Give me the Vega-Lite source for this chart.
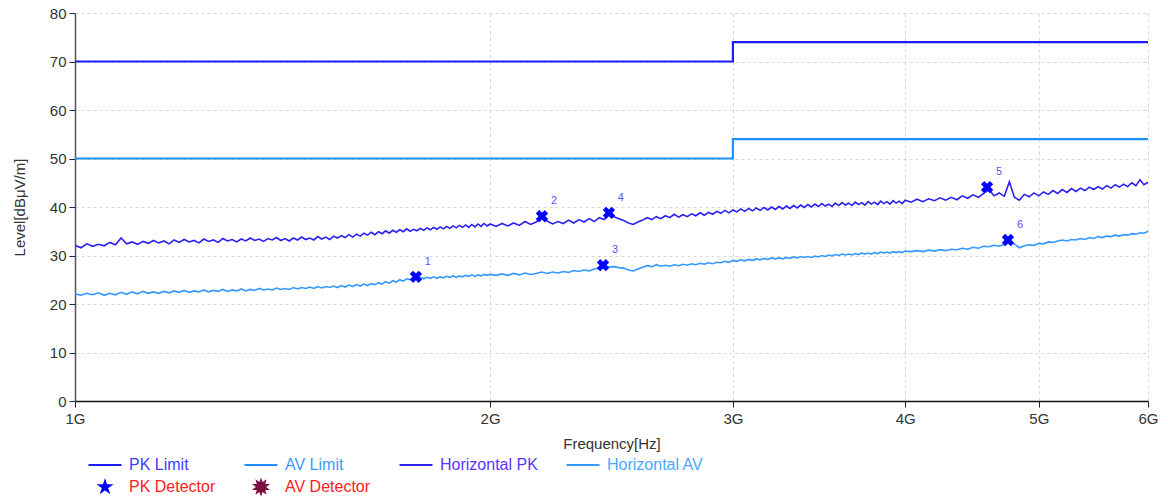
{
  "$schema": "https://vega.github.io/schema/vega-lite/v6.json",
  "autosize": "none",
  "width": 1073,
  "height": 388,
  "padding": {"left": 75, "top": 13, "right": 20, "bottom": 96},
  "background": "white",
  "config": {
    "view": {"stroke": null},
    "font": "Liberation Sans",
    "axis": {
      "labelFont": "Liberation Sans",
      "titleFont": "Liberation Sans",
      "labelFontSize": 15,
      "titleFontSize": 15,
      "labelColor": "#333333",
      "titleColor": "#333333",
      "titleFontWeight": "normal",
      "gridColor": "#d9d9d9",
      "gridDash": [3, 3],
      "gridWidth": 1,
      "tickColor": "#222222",
      "tickSize": 6
    },
    "legend": {
      "labelFont": "Liberation Sans",
      "labelFontSize": 16
    }
  },
  "datasets": {
    "limits": [
      {"f": 1, "l": 70, "s": "PK Limit"},
      {"f": 3, "l": 74, "s": "PK Limit"},
      {"f": 6, "l": 74, "s": "PK Limit"},
      {"f": 1, "l": 50, "s": "AV Limit"},
      {"f": 3, "l": 54, "s": "AV Limit"},
      {"f": 6, "l": 54, "s": "AV Limit"}
    ],
    "markers": [
      {"n": "1", "f": 1.767, "v": 25.6},
      {"n": "2", "f": 2.181, "v": 38.1},
      {"n": "3", "f": 2.415, "v": 28.0},
      {"n": "4", "f": 2.439, "v": 38.8},
      {"n": "5", "f": 4.586, "v": 44.1},
      {"n": "6", "f": 4.749, "v": 33.2}
    ],
    "trace": [
      {"f":1.00,"p":32.1,"a":22.1},{"f":1.01,"p":31.6,"a":21.8},{"f":1.02,"p":32.4,"a":22.2},{"f":1.03,"p":31.9,"a":21.9},
      {"f":1.04,"p":32.3,"a":22.3},{"f":1.05,"p":32.0,"a":21.8},{"f":1.06,"p":32.7,"a":22.2},{"f":1.07,"p":32.2,"a":21.9},
      {"f":1.08,"p":33.6,"a":22.4},{"f":1.09,"p":32.4,"a":22.0},{"f":1.10,"p":32.8,"a":22.5},{"f":1.11,"p":32.3,"a":22.1},
      {"f":1.12,"p":32.9,"a":22.6},{"f":1.13,"p":32.5,"a":22.2},{"f":1.14,"p":33.1,"a":22.5},{"f":1.15,"p":32.6,"a":22.2},
      {"f":1.16,"p":33.0,"a":22.6},{"f":1.17,"p":32.4,"a":22.3},{"f":1.18,"p":33.2,"a":22.7},{"f":1.19,"p":32.7,"a":22.4},
      {"f":1.20,"p":33.3,"a":22.8},{"f":1.21,"p":32.8,"a":22.4},{"f":1.22,"p":33.1,"a":22.7},{"f":1.23,"p":32.6,"a":22.5},
      {"f":1.24,"p":33.4,"a":22.9},{"f":1.25,"p":32.9,"a":22.5},{"f":1.26,"p":33.2,"a":22.8},{"f":1.27,"p":32.7,"a":22.6},
      {"f":1.28,"p":33.5,"a":23.0},{"f":1.29,"p":33.0,"a":22.6},{"f":1.30,"p":33.3,"a":22.9},{"f":1.31,"p":32.8,"a":22.7},
      {"f":1.32,"p":33.4,"a":23.1},{"f":1.33,"p":33.0,"a":22.7},{"f":1.34,"p":33.6,"a":23.0},{"f":1.35,"p":33.1,"a":22.8},
      {"f":1.36,"p":33.4,"a":23.2},{"f":1.37,"p":32.9,"a":22.9},{"f":1.38,"p":33.5,"a":23.1},{"f":1.39,"p":33.2,"a":22.9},
      {"f":1.40,"p":33.7,"a":23.3},{"f":1.41,"p":33.1,"a":23.0},{"f":1.42,"p":33.5,"a":23.2},{"f":1.43,"p":33.0,"a":23.0},
      {"f":1.44,"p":33.6,"a":23.4},{"f":1.45,"p":33.2,"a":23.1},{"f":1.46,"p":33.8,"a":23.4},{"f":1.47,"p":33.3,"a":23.2},
      {"f":1.48,"p":33.6,"a":23.5},{"f":1.49,"p":33.2,"a":23.2},{"f":1.50,"p":33.9,"a":23.6},{"f":1.51,"p":33.4,"a":23.3},
      {"f":1.52,"p":33.8,"a":23.6},{"f":1.53,"p":33.3,"a":23.4},{"f":1.54,"p":34.0,"a":23.7},{"f":1.55,"p":33.6,"a":23.4},
      {"f":1.56,"p":34.1,"a":23.8},{"f":1.57,"p":33.7,"a":23.5},{"f":1.58,"p":34.3,"a":23.9},{"f":1.59,"p":33.8,"a":23.6},
      {"f":1.60,"p":34.4,"a":24.0},{"f":1.61,"p":34.0,"a":23.7},{"f":1.62,"p":34.6,"a":24.1},{"f":1.63,"p":34.2,"a":23.8},
      {"f":1.64,"p":34.8,"a":24.2},{"f":1.65,"p":34.3,"a":24.0},{"f":1.66,"p":34.9,"a":24.4},{"f":1.67,"p":34.5,"a":24.1},
      {"f":1.68,"p":35.1,"a":24.6},{"f":1.69,"p":34.6,"a":24.3},{"f":1.70,"p":35.2,"a":24.8},{"f":1.71,"p":34.8,"a":24.5},
      {"f":1.72,"p":35.3,"a":25.0},{"f":1.73,"p":34.9,"a":24.7},{"f":1.74,"p":35.5,"a":25.2},{"f":1.75,"p":35.0,"a":25.0},
      {"f":1.76,"p":35.4,"a":25.4},{"f":1.77,"p":35.1,"a":25.2},{"f":1.78,"p":35.6,"a":25.5},{"f":1.79,"p":35.2,"a":25.2},
      {"f":1.80,"p":35.7,"a":25.5},{"f":1.81,"p":35.3,"a":25.3},{"f":1.82,"p":35.8,"a":25.6},{"f":1.83,"p":35.4,"a":25.3},
      {"f":1.84,"p":35.9,"a":25.6},{"f":1.85,"p":35.5,"a":25.4},{"f":1.86,"p":36.0,"a":25.7},{"f":1.87,"p":35.6,"a":25.5},
      {"f":1.88,"p":36.1,"a":25.8},{"f":1.89,"p":35.7,"a":25.5},{"f":1.90,"p":36.2,"a":25.8},{"f":1.91,"p":35.8,"a":25.6},
      {"f":1.92,"p":36.3,"a":25.9},{"f":1.93,"p":35.8,"a":25.7},{"f":1.94,"p":36.4,"a":26.0},{"f":1.95,"p":35.9,"a":25.7},
      {"f":1.96,"p":36.5,"a":26.0},{"f":1.97,"p":36.0,"a":25.8},{"f":1.98,"p":36.6,"a":26.1},{"f":1.99,"p":36.1,"a":25.9},
      {"f":2.00,"p":36.5,"a":26.1},
      {"f":2.02,"p":36.0,"a":25.9},{"f":2.04,"p":36.6,"a":26.2},{"f":2.06,"p":36.1,"a":25.9},{"f":2.08,"p":36.7,"a":26.3},
      {"f":2.10,"p":36.2,"a":26.0},{"f":2.12,"p":37.0,"a":26.4},{"f":2.14,"p":36.4,"a":26.1},{"f":2.16,"p":36.9,"a":26.3},
      {"f":2.18,"p":38.0,"a":26.6},{"f":2.20,"p":37.1,"a":26.3},{"f":2.22,"p":36.5,"a":26.6},{"f":2.24,"p":37.0,"a":26.4},
      {"f":2.26,"p":36.6,"a":26.7},{"f":2.28,"p":37.3,"a":26.5},{"f":2.30,"p":36.7,"a":26.9},{"f":2.32,"p":37.4,"a":26.7},
      {"f":2.34,"p":36.9,"a":27.0},{"f":2.36,"p":37.6,"a":26.8},{"f":2.38,"p":37.0,"a":27.2},{"f":2.40,"p":37.8,"a":27.4},
      {"f":2.42,"p":37.4,"a":27.9},{"f":2.44,"p":38.6,"a":27.6},{"f":2.46,"p":38.0,"a":27.7},{"f":2.48,"p":37.6,"a":27.5},
      {"f":2.50,"p":37.2,"a":27.4},{"f":2.52,"p":36.7,"a":27.0},{"f":2.54,"p":36.4,"a":26.8},{"f":2.56,"p":36.9,"a":27.2},
      {"f":2.58,"p":37.3,"a":27.6},{"f":2.60,"p":37.8,"a":27.9},{"f":2.62,"p":37.4,"a":27.7},{"f":2.64,"p":38.0,"a":28.1},
      {"f":2.66,"p":37.6,"a":27.8},{"f":2.68,"p":38.2,"a":28.0},{"f":2.70,"p":37.8,"a":27.8},{"f":2.72,"p":38.5,"a":28.1},
      {"f":2.74,"p":37.9,"a":27.9},{"f":2.76,"p":38.4,"a":28.2},{"f":2.78,"p":38.0,"a":28.0},{"f":2.80,"p":38.6,"a":28.3},
      {"f":2.82,"p":38.2,"a":28.1},{"f":2.84,"p":38.8,"a":28.4},{"f":2.86,"p":38.3,"a":28.2},{"f":2.88,"p":38.9,"a":28.5},
      {"f":2.90,"p":38.5,"a":28.3},{"f":2.92,"p":39.1,"a":28.6},{"f":2.94,"p":38.7,"a":28.5},{"f":2.96,"p":39.3,"a":28.8},
      {"f":2.98,"p":38.8,"a":28.6},{"f":3.00,"p":39.4,"a":29.0},{"f":3.02,"p":39.0,"a":28.8},{"f":3.04,"p":39.6,"a":29.1},
      {"f":3.06,"p":39.1,"a":28.9},{"f":3.08,"p":39.7,"a":29.2},{"f":3.10,"p":39.2,"a":29.0},{"f":3.12,"p":39.8,"a":29.3},
      {"f":3.14,"p":39.3,"a":29.1},{"f":3.16,"p":39.9,"a":29.4},{"f":3.18,"p":39.4,"a":29.2},{"f":3.20,"p":40.0,"a":29.5},
      {"f":3.22,"p":39.5,"a":29.3},{"f":3.24,"p":40.1,"a":29.5},{"f":3.26,"p":39.6,"a":29.3},{"f":3.28,"p":40.2,"a":29.6},
      {"f":3.30,"p":39.7,"a":29.4},{"f":3.32,"p":40.3,"a":29.7},{"f":3.34,"p":39.8,"a":29.5},{"f":3.36,"p":40.4,"a":29.8},
      {"f":3.38,"p":39.9,"a":29.6},{"f":3.40,"p":40.5,"a":29.8},{"f":3.42,"p":40.0,"a":29.6},{"f":3.44,"p":40.6,"a":29.9},
      {"f":3.46,"p":40.1,"a":29.7},{"f":3.48,"p":40.7,"a":30.0},{"f":3.50,"p":40.2,"a":29.8},{"f":3.52,"p":40.6,"a":30.1},
      {"f":3.54,"p":40.1,"a":29.9},{"f":3.56,"p":40.8,"a":30.2},{"f":3.58,"p":40.3,"a":30.0},{"f":3.60,"p":40.9,"a":30.3},
      {"f":3.62,"p":40.4,"a":30.1},{"f":3.64,"p":40.8,"a":30.3},{"f":3.66,"p":40.3,"a":30.1},{"f":3.68,"p":41.0,"a":30.4},
      {"f":3.70,"p":40.5,"a":30.2},{"f":3.72,"p":40.9,"a":30.5},{"f":3.74,"p":40.4,"a":30.3},{"f":3.76,"p":41.1,"a":30.5},
      {"f":3.78,"p":40.6,"a":30.3},{"f":3.80,"p":41.0,"a":30.6},{"f":3.82,"p":40.5,"a":30.4},{"f":3.84,"p":41.2,"a":30.7},
      {"f":3.86,"p":40.7,"a":30.5},{"f":3.88,"p":41.1,"a":30.7},{"f":3.90,"p":40.6,"a":30.5},{"f":3.92,"p":41.3,"a":30.8},
      {"f":3.94,"p":40.8,"a":30.6},{"f":3.96,"p":41.2,"a":30.8},{"f":3.98,"p":40.7,"a":30.6},{"f":4.00,"p":41.4,"a":30.9},
      {"f":4.04,"p":41.0,"a":30.8},{"f":4.08,"p":41.6,"a":31.0},{"f":4.12,"p":41.1,"a":30.8},{"f":4.16,"p":41.7,"a":31.1},
      {"f":4.20,"p":41.3,"a":30.9},{"f":4.24,"p":41.9,"a":31.2},{"f":4.28,"p":41.4,"a":31.0},{"f":4.32,"p":42.0,"a":31.3},
      {"f":4.36,"p":41.5,"a":31.2},{"f":4.40,"p":42.3,"a":31.5},{"f":4.44,"p":41.8,"a":31.3},{"f":4.48,"p":42.5,"a":31.7},
      {"f":4.52,"p":42.0,"a":31.5},{"f":4.56,"p":42.8,"a":31.9},{"f":4.60,"p":43.6,"a":31.8},{"f":4.64,"p":42.3,"a":32.1},
      {"f":4.68,"p":42.9,"a":31.9},{"f":4.72,"p":42.2,"a":32.3},{"f":4.76,"p":45.2,"a":32.7},{"f":4.80,"p":42.0,"a":32.4},
      {"f":4.84,"p":41.4,"a":31.6},{"f":4.88,"p":42.6,"a":32.0},{"f":4.92,"p":42.1,"a":32.2},{"f":4.96,"p":42.9,"a":32.1},
      {"f":5.00,"p":42.3,"a":32.5},{"f":5.04,"p":43.1,"a":32.4},{"f":5.08,"p":42.6,"a":32.8},{"f":5.12,"p":43.4,"a":32.7},
      {"f":5.16,"p":42.8,"a":33.0},{"f":5.20,"p":43.6,"a":33.2},{"f":5.24,"p":43.0,"a":33.0},{"f":5.28,"p":43.8,"a":33.3},
      {"f":5.32,"p":43.2,"a":33.2},{"f":5.36,"p":43.9,"a":33.5},{"f":5.40,"p":43.4,"a":33.3},{"f":5.44,"p":44.1,"a":33.7},
      {"f":5.48,"p":43.6,"a":33.5},{"f":5.52,"p":44.2,"a":33.9},{"f":5.56,"p":43.7,"a":33.7},{"f":5.60,"p":44.4,"a":34.0},
      {"f":5.64,"p":43.9,"a":33.9},{"f":5.68,"p":44.6,"a":34.2},{"f":5.72,"p":44.1,"a":34.0},{"f":5.76,"p":44.7,"a":34.3},
      {"f":5.80,"p":44.2,"a":34.2},{"f":5.84,"p":45.0,"a":34.5},{"f":5.88,"p":44.4,"a":34.4},{"f":5.92,"p":45.6,"a":34.7},
      {"f":5.96,"p":44.6,"a":34.6},{"f":6.00,"p":45.1,"a":35.0}
    ]
  },
  "layer": [
    {
      "data": {"name": "trace"},
      "mark": {"type": "line", "strokeWidth": 1.6, "clip": true},
      "encoding": {
        "x": {
          "field": "f", "type": "quantitative",
          "scale": {"type": "log", "domain": [1, 6], "nice": false},
          "axis": {
            "title": "Frequency[Hz]",
            "values": [1, 2, 3, 4, 5, 6],
            "labelExpr": "datum.value + 'G'",
            "labelFlush": false,
            "domainColor": "#111111",
            "domainWidth": 1.5,
            "labelPadding": 4,
            "titlePadding": 10,
            "grid": true
          }
        },
        "y": {
          "field": "p", "type": "quantitative",
          "scale": {"domain": [0, 80], "nice": false},
          "axis": {
            "title": "Level[dBμV/m]",
            "values": [0, 10, 20, 30, 40, 50, 60, 70, 80],
            "domainColor": "#555555",
            "domainWidth": 1.5,
            "labelPadding": 3,
            "titlePadding": 22,
            "grid": true
          }
        },
        "color": {
          "datum": "Horizontal PK",
          "type": "nominal",
          "title": null,
          "scale": {
            "domain": ["PK Limit", "AV Limit", "Horizontal PK", "Horizontal AV", "PK Detector", "AV Detector"],
            "range": ["#1c1cff", "#1e90ff", "#2d1ff0", "#3399ff", "#0000ff", "#7b1040"]
          },
          "legend": {
            "title": null,
            "orient": "none",
            "legendX": 19,
            "legendY": 441,
            "direction": "horizontal",
            "columns": 4,
            "columnPadding": 24,
            "rowPadding": 3,
            "labelOffset": 13,
            "labelFontSize": 16,
            "symbolSize": 400,
            "symbolStrokeWidth": 2,
            "encode": {
              "symbols": {
                "update": {
                  "shape": {"signal": "datum.value == 'PK Detector' ? 'M0,-.58L.13,-.18L.55,-.18L.21,.07L.34,.47L0,.22L-.34,.47L-.21,.07L-.55,-.18L-.13,-.18Z' : datum.value == 'AV Detector' ? 'M0,-.65L.111,-.342L.382,-.526L.291,-.212L.618,-.201L.36,0L.618,.201L.291,.212L.382,.526L.111,.342L0,.65L-.111,.342L-.382,.526L-.291,.212L-.618,.201L-.36,0L-.618,-.201L-.291,-.212L-.382,-.526L-.111,-.342Z' : 'M-1.65,0H1.65'"},
                  "fill": {"signal": "datum.value == 'PK Detector' ? '#0000ff' : datum.value == 'AV Detector' ? '#7b1040' : 'transparent'"},
                  "stroke": {"signal": "datum.value == 'PK Limit' ? '#1c1cff' : datum.value == 'AV Limit' ? '#1e90ff' : datum.value == 'Horizontal PK' ? '#2d1ff0' : datum.value == 'Horizontal AV' ? '#3399ff' : 'transparent'"},
                  "opacity": {"value": 1}
                }
              },
              "labels": {
                "update": {
                  "fill": {"signal": "datum.value == 'PK Limit' ? '#3d3dff' : datum.value == 'AV Limit' ? '#3a9bff' : datum.value == 'Horizontal PK' ? '#5a35ff' : datum.value == 'Horizontal AV' ? '#4da6ff' : '#ff2020'"}
                }
              }
            }
          }
        }
      }
    },
    {
      "data": {"name": "trace"},
      "mark": {"type": "line", "strokeWidth": 1.6, "clip": true},
      "encoding": {
        "x": {"field": "f", "type": "quantitative"},
        "y": {"field": "a", "type": "quantitative"},
        "color": {"datum": "Horizontal AV", "type": "nominal", "title": null}
      }
    },
    {
      "data": {"name": "limits"},
      "mark": {"type": "line", "strokeWidth": 2.2, "interpolate": "step-after"},
      "encoding": {
        "x": {"field": "f", "type": "quantitative"},
        "y": {"field": "l", "type": "quantitative"},
        "detail": {"field": "s"},
        "color": {"field": "s", "type": "nominal", "title": null}
      }
    },
    {
      "data": {"name": "markers"},
      "mark": {
        "type": "point", "filled": true, "color": "#0000ff", "opacity": 1, "size": 160, "angle": 45,
        "shape": "M-1,-0.38H-0.38V-1H0.38V-0.38H1V0.38H0.38V1H-0.38V0.38H-1Z"
      },
      "encoding": {
        "x": {"field": "f", "type": "quantitative"},
        "y": {"field": "v", "type": "quantitative"}
      }
    },
    {
      "data": {"name": "markers"},
      "mark": {"type": "text", "color": "#6050f0", "fontSize": 11, "dx": 12, "dy": -15, "font": "Liberation Sans"},
      "encoding": {
        "x": {"field": "f", "type": "quantitative"},
        "y": {"field": "v", "type": "quantitative"},
        "text": {"field": "n"}
      }
    }
  ]
}
